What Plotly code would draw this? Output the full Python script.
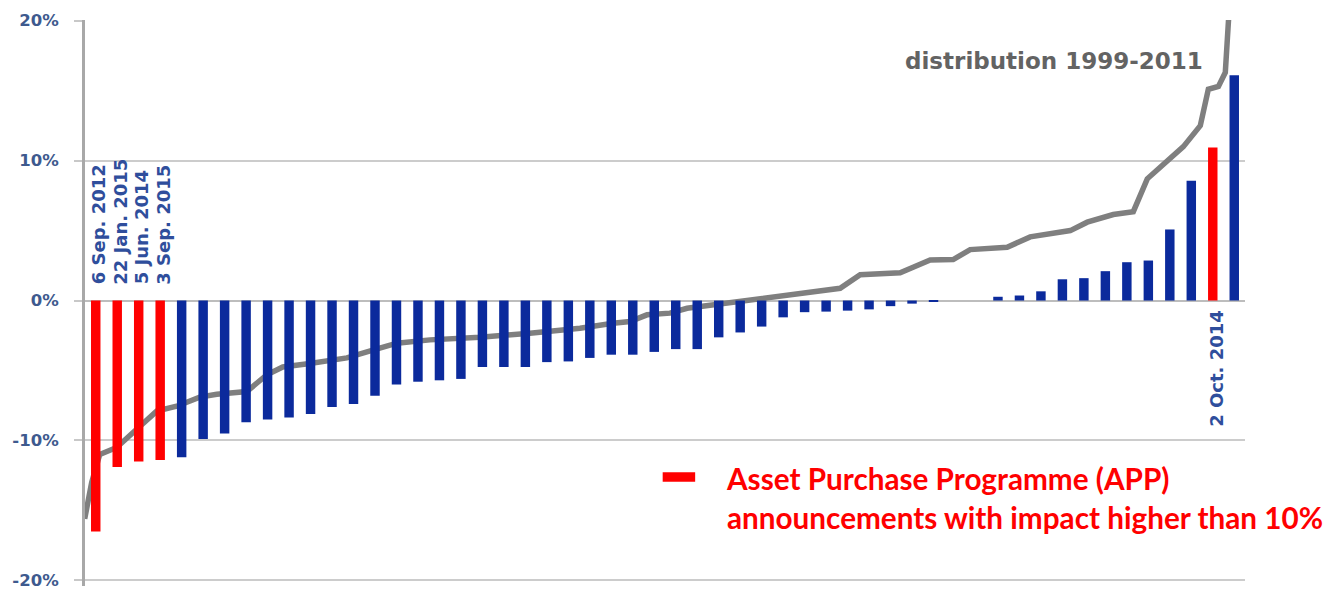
import plotly.graph_objects as go

# ---------------- data ----------------
# Announcement impact, sorted from lowest to highest (in %)
event_rank = list(range(54))
impact = [-16.5, -11.9, -11.5, -11.4, -11.2, -9.9, -9.5, -8.7, -8.5, -8.35,
          -8.1, -7.6, -7.4, -6.8, -6.0, -5.8, -5.7, -5.6, -4.75, -4.75,
          -4.75, -4.4, -4.35, -4.1, -3.87, -3.87, -3.67, -3.47, -3.47, -2.63,
          -2.28, -1.86, -1.2, -0.83, -0.79, -0.72, -0.63, -0.4, -0.22, -0.06,
          0.0, 0.0, 0.27, 0.36, 0.66, 1.52, 1.6, 2.1, 2.74, 2.86,
          5.08, 8.57, 10.93, 16.1]
app_events = [0, 1, 2, 3, 52]          # APP announcements (impact > 10%)

label_rank = [0, 1, 2, 3, 52]
label_text = ["6 Sep. 2012", "22 Jan. 2015", "5 Jun. 2014", "3 Sep. 2015", "2 Oct. 2014"]

# distribution 1999-2011 (percentile -> impact %)
dist_pct = [0.0, 0.61, 1.31, 2.79, 4.80, 6.29, 8.03, 10.04, 11.53, 14.15,
            15.90, 17.29, 19.65, 22.88, 25.15, 27.25, 30.13, 34.50, 38.86, 43.23,
            46.11, 47.60, 49.08, 51.09, 52.58, 54.85, 57.82, 60.70, 63.58, 65.94,
            67.69, 69.43, 71.18, 72.31, 73.80, 75.81, 77.29, 80.52, 82.53, 86.03,
            87.51, 89.78, 91.53, 92.75, 94.50, 95.90, 97.38, 98.08, 98.96, 99.56,
            99.83, 100.0]
dist_val = [-15.6, -13.0, -11.0, -10.5, -9.0, -7.9, -7.55, -6.9, -6.7, -6.5,
            -5.3, -4.75, -4.5, -4.1, -3.55, -3.05, -2.81, -2.62, -2.33, -1.98,
            -1.62, -1.5, -1.02, -0.9, -0.55, -0.31, 0.05, 0.29, 0.57, 0.88,
            1.85, 1.92, 1.98, 2.38, 2.9, 2.93, 3.64, 3.81, 4.55, 5.0,
            5.6, 6.15, 6.35, 8.7, 10.0, 11.0, 12.5, 15.1, 15.3, 16.3,
            19.9, 22.0]

y_ticks = [-20, -10, 0, 10, 20]
y_tick_text = ["-20%", "-10%", "0%", "10%", "20%"]

# ---------------- style ----------------
BLUE = "#0b2a9c"
RED = "#ff0000"
GREY_LINE = "#7f7f7f"
LABEL_BLUE = "#2f4e9c"
TICK_BLUE = "#3e5a8e"

colors = [RED if r in app_events else BLUE for r in event_rank]

fig = go.Figure()

# distribution line (base x axis, percentile scale) - drawn beneath bars
fig.add_trace(go.Scatter(
    x=dist_pct, y=dist_val, mode="lines", xaxis="x", yaxis="y",
    line=dict(color=GREY_LINE, width=5.5), hoverinfo="skip", showlegend=False))

# announcement bars (overlaid rank axis)
fig.add_trace(go.Bar(
    x=event_rank, y=impact, xaxis="x2", yaxis="y",
    marker=dict(color=colors, line=dict(width=0)), showlegend=False))

annotations = []
for r, t in zip(label_rank, label_text):
    above = impact[r] < 0
    annotations.append(dict(
        x=r, y=1.0 if above else -0.5, xref="x2", yref="y",
        text=t, textangle=-90, showarrow=False, xshift=3,
        yanchor="bottom" if above else "top", xanchor="center",
        font=dict(family="DejaVu Sans", size=18, color=LABEL_BLUE, weight="bold")))

annotations.append(dict(
    x=51.65, y=17.1, xref="x2", yref="y", text="distribution 1999-2011",
    showarrow=False, xanchor="right", yanchor="middle",
    font=dict(family="DejaVu Sans", size=23, color="#636363", weight="bold")))

# legend (custom)
annotations.append(dict(
    x=0.551, y=0.155, xref="paper", yref="paper",
    text="Asset Purchase Programme (APP)<br>announcements with impact higher than 10%",
    showarrow=False, xanchor="left", yanchor="middle", align="left",
    font=dict(family="Lato", size=29.7, color=RED, weight="bold")))

shapes = [dict(type="rect", xref="paper", yref="paper",
               x0=0.498, x1=0.526, y0=0.184, y1=0.201,
               fillcolor=RED, line=dict(width=0))]

fig.update_layout(
    width=1338, height=590, autosize=False,
    margin=dict(l=85.3, r=93.3, t=20.0, b=4.4),
    paper_bgcolor="white", plot_bgcolor="white",
    bargap=0.56,
    xaxis=dict(range=[0.026, 101.28], visible=False, fixedrange=True),
    xaxis2=dict(range=[-0.5, 53.5], overlaying="x", anchor="y", visible=False,
                fixedrange=True),
    yaxis=dict(range=[-20.4, 20.05], tickvals=y_ticks, ticktext=y_tick_text,
               showgrid=True, gridcolor="#cccccc", gridwidth=1.5,
               zeroline=True, zerolinecolor="#bdbdbd", zerolinewidth=1.5,
               showline=True, linecolor="#a8a8a8", linewidth=3,
               ticks="outside", ticklen=8, tickcolor="#c8c8c8", tickwidth=1.5,
               ticklabelstandoff=12, ticklabeloverflow="allow", automargin=False,
               tickfont=dict(family="DejaVu Sans", size=16.5, color=TICK_BLUE,
                             weight="bold")),
    annotations=annotations, shapes=shapes,
    showlegend=False,
)

fig.write_html("out.html", config={"displayModeBar": False},
               post_script="document.body.style.margin='0';document.body.style.overflow='hidden';")
